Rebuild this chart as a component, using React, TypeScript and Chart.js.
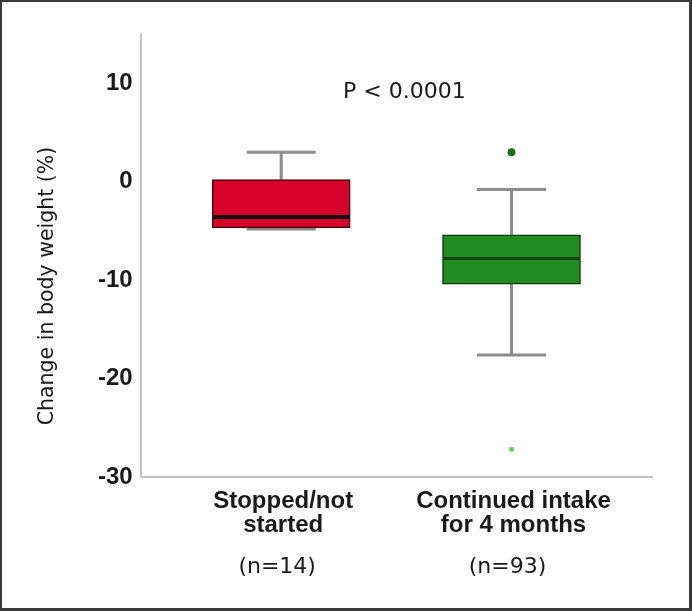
import React, { useEffect, useRef } from "react";
import { Chart, registerables } from "chart.js";

Chart.register(...registerables);

// ---- data ----
const categoryLines: string[][] = [
  ["Stopped/not", "started"],
  ["Continued intake", "for 4 months"],
];
const sampleSizes: string[] = ["(n=14)", "(n=93)"];
const whiskerLow: number[] = [-4.8, -17.6];
const q1: number[] = [-4.7, -10.4];
const medians: number[] = [-3.6, -7.8];
const q3: number[] = [0.2, -5.4];
const whiskerHigh: number[] = [3.0, -0.8];
const outlierCategory: number[] = [1, 1];
const outlierValues: number[] = [3.0, -27.2];
const yTicks: number[] = [-30, -20, -10, 0, 10];
const pValueText = "P < 0.0001";
const yTitle = "Change in body weight (%)";

// ---- styles ----
const boxFill = ["rgb(215,0,42)", "rgb(34,139,34)"];
const boxBorder = ["rgb(70,0,12)", "rgb(12,60,12)"];
const medianColor = ["#111111", "rgb(14,70,14)"];
const outlierFill = ["rgb(26,110,26)", "rgb(90,195,90)"];
const outlierStyle = ["circle", "rect"];
const outlierRadius = [4, 3];
const whiskerColor = "#8c8c8c";
const textColor = "#1a1a1a";

const boxPlotPlugin = {
  id: "boxPlotExtras",
  beforeDatasetsDraw(chart: any) {
    const { ctx, scales } = chart;
    const x = scales.x;
    const y = scales.y;
    ctx.save();
    ctx.strokeStyle = whiskerColor;
    ctx.lineWidth = 3;
    const capHalf = 34.5;
    categoryLines.forEach((_, i) => {
      const cx = x.getPixelForValue(i);
      ctx.beginPath();
      ctx.moveTo(cx, y.getPixelForValue(q3[i]));
      ctx.lineTo(cx, y.getPixelForValue(whiskerHigh[i]));
      ctx.moveTo(cx, y.getPixelForValue(q1[i]));
      ctx.lineTo(cx, y.getPixelForValue(whiskerLow[i]));
      ctx.stroke();
      ctx.beginPath();
      ctx.moveTo(cx - capHalf, y.getPixelForValue(whiskerHigh[i]));
      ctx.lineTo(cx + capHalf, y.getPixelForValue(whiskerHigh[i]));
      ctx.moveTo(cx - capHalf, y.getPixelForValue(whiskerLow[i]));
      ctx.lineTo(cx + capHalf, y.getPixelForValue(whiskerLow[i]));
      ctx.stroke();
    });
    ctx.restore();
  },
  afterDatasetsDraw(chart: any) {
    const { ctx, scales, chartArea } = chart;
    const x = scales.x;
    const y = scales.y;
    const meta = chart.getDatasetMeta(0);
    ctx.save();
    // medians
    categoryLines.forEach((_, i) => {
      const bar = meta.data[i];
      const half = bar.width / 2;
      const my = y.getPixelForValue(medians[i]);
      ctx.strokeStyle = medianColor[i];
      ctx.lineWidth = i === 0 ? 4 : 3;
      ctx.beginPath();
      ctx.moveTo(bar.x - half + 1, my);
      ctx.lineTo(bar.x + half - 1, my);
      ctx.stroke();
    });
    // p value
    ctx.fillStyle = textColor;
    ctx.textAlign = "center";
    ctx.textBaseline = "alphabetic";
    ctx.font = "22px 'DejaVu Sans', sans-serif";
    ctx.fillText(pValueText, (chartArea.left + chartArea.right) / 2 + 8, chartArea.top + 64);
    // category labels
    categoryLines.forEach((lines, i) => {
      const cx = x.getPixelForValue(i);
      ctx.font = "bold 24px 'Liberation Sans', Arial, sans-serif";
      lines.forEach((ln, k) => {
        ctx.fillText(ln, cx + 2, chartArea.bottom + 31 + k * 24);
      });
      ctx.font = "22px 'DejaVu Sans', sans-serif";
      ctx.fillText(sampleSizes[i], cx - 4, chartArea.bottom + 96);
    });
    // y title
    ctx.translate(48, 286);
    ctx.rotate(-Math.PI / 2);
    ctx.textBaseline = "middle";
    ctx.font = "20.5px 'DejaVu Sans', sans-serif";
    ctx.fillText(yTitle, 0, 0);
    ctx.restore();
  },
};

export default function App() {
  const canvasRef = useRef<HTMLCanvasElement | null>(null);

  useEffect(() => {
    document.body.style.margin = "0";
    const canvas = canvasRef.current;
    if (!canvas) return;
    const chart = new Chart(canvas, {
      type: "bar",
      data: {
        datasets: [
          {
            type: "bar",
            data: categoryLines.map((_, i) => ({ x: i, y: [q1[i], q3[i]] })) as any,
            backgroundColor: boxFill,
            borderColor: boxBorder,
            borderWidth: 1.5,
            borderSkipped: false,
            barThickness: 138,
          } as any,
          {
            type: "scatter",
            data: outlierValues.map((v, i) => ({ x: outlierCategory[i], y: v })),
            pointBackgroundColor: outlierFill,
            pointBorderColor: outlierFill,
            pointStyle: outlierStyle as any,
            pointRadius: outlierRadius,
            borderWidth: 0,
          } as any,
        ],
      },
      options: {
        animation: false,
        responsive: false,
        devicePixelRatio: 1,
        layout: { padding: { left: 90, right: 40, top: 34, bottom: 134 } },
        plugins: {
          legend: { display: false },
          tooltip: { enabled: false },
        },
        scales: {
          x: {
            type: "linear",
            offset: false,
            min: -0.61,
            max: 1.61,
            grid: { display: false, drawTicks: false, offset: false },
            ticks: { display: false },
            border: { display: true, color: "#c4c4c4", width: 2 },
          },
          y: {
            type: "linear",
            min: -30,
            max: 15,
            afterBuildTicks: (scale: any) => {
              scale.ticks = yTicks.map((v) => ({ value: v }));
            },
            grid: { display: false, drawTicks: false },
            ticks: {
              color: textColor,
              padding: 8,
              font: { family: "'Liberation Sans', Arial, sans-serif", size: 24, weight: "bold" },
            },
            border: { display: true, color: "#c4c4c4", width: 2 },
          },
        },
      },
      plugins: [boxPlotPlugin],
    });
    return () => chart.destroy();
  }, []);

  return (
    <div style={{ position: "relative", width: 692, height: 611 }}>
      <canvas ref={canvasRef} width={692} height={611} style={{ position: "absolute", left: 0, top: 0 }} />
      <div
        style={{
          position: "absolute",
          left: 0,
          top: 0,
          width: 692,
          height: 611,
          boxSizing: "border-box",
          borderStyle: "solid",
          borderColor: "#3a3a3a",
          borderWidth: "2px 3px 3px 2px",
          pointerEvents: "none",
        }}
      />
    </div>
  );
}
